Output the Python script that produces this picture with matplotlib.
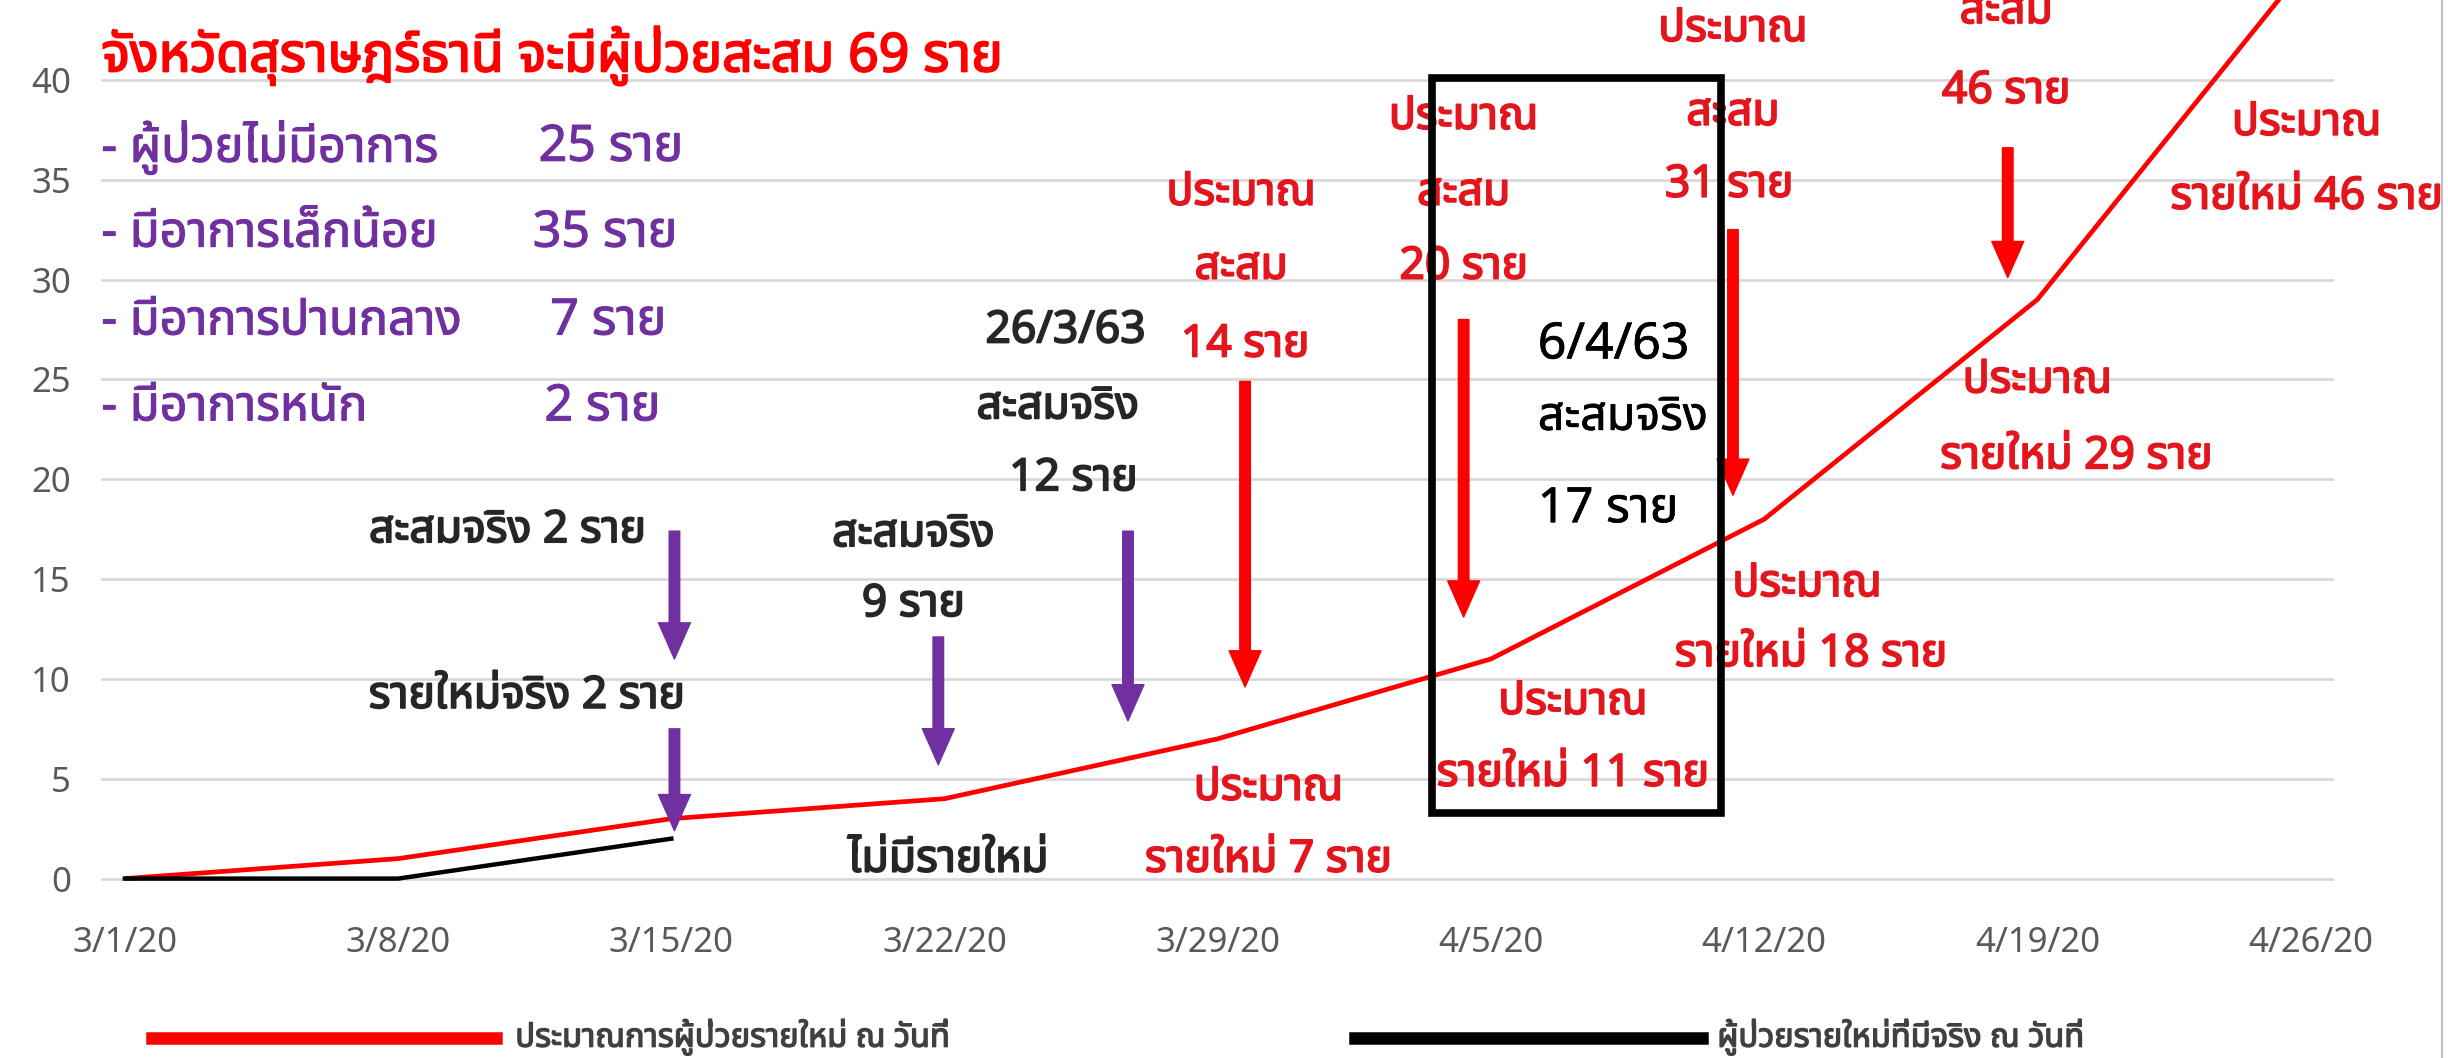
import matplotlib
matplotlib.use('Agg')
import matplotlib.pyplot as plt
from matplotlib import font_manager as fm
from matplotlib.ft2font import FT2Font
from matplotlib.lines import Line2D
from matplotlib.patches import Rectangle
import matplotlib.patheffects as pe

# ---------------- data ----------------
x_tick_labels = ['3/1/20', '3/8/20', '3/15/20', '3/22/20', '3/29/20',
                 '4/5/20', '4/12/20', '4/19/20', '4/26/20']
week_days = [0, 7, 14, 21, 28, 35, 42, 49, 56]          # days since 3/1/20
est_new = [0, 1, 3, 4, 7, 11, 18, 29, 46]               # estimated new cases
actual_days = [0, 7, 14]
actual_new = [0, 0, 2]                                    # actual new cases
y_ticks = [0, 5, 10, 15, 20, 25, 30, 35, 40]

legend_labels = ['ประมาณการผู้ป่วยรายใหม่ ณ วันที่', 'ผู้ป่วยรายใหม่ที่มีจริง ณ วันที่']
title_text = 'จังหวัดสุราษฎร์ธานี จะมีผู้ป่วยสะสม 69 ราย'
severity_labels = ['- ผู้ป่วยไม่มีอาการ', '- มีอาการเล็กน้อย', '- มีอาการปานกลาง', '- มีอาการหนัก']
severity_counts = ['25 ราย', '35 ราย', '7 ราย', '2 ราย']


# ---------------- fonts ----------------
def find_thai_family():
    found = {}
    for f in fm.fontManager.ttflist:
        try:
            cm = FT2Font(f.fname).get_charmap()
        except Exception:
            continue
        if 0x0E01 in cm and 0x0E21 in cm and 0x0E13 in cm:
            found.setdefault(f.name, []).append(f.weight)
    pref = ['Noto Sans Thai', 'Noto Sans Thai UI', 'Sarabun', 'Tahoma', 'Leelawadee UI',
            'Leelawadee', 'Garuda', 'Loma', 'Waree', 'Umpush', 'Kinnari', 'Norasi',
            'TlwgTypo', 'FreeSans', 'FreeSerif', 'Arial Unicode MS']
    for p in pref:
        if p in found:
            return p
    if found:
        return sorted(found)[0]
    return None

thai = find_thai_family()
fam = [thai, 'DejaVu Sans'] if thai else ['DejaVu Sans']
plt.rcParams['font.family'] = fam

RED_LINE = '#FF0000'
RED_TXT = '#E3161E'
PURPLE = '#7030A0'
DARK = '#262626'
GRID = '#D9D9D9'
TICK = '#595959'


def bold(color, w=1.3):
    return [pe.withStroke(linewidth=w, foreground=color)]


fig = plt.figure(figsize=(24.48, 10.58), dpi=100)
ax = fig.add_axes([0.04145, 0.1507, 0.912, 0.8493])
ax.set_xlim(-0.6, 56.6)
ax.set_ylim(-1, 44)

for v in y_ticks:
    ax.axhline(v, color=GRID, lw=2, zorder=0)

ax.plot(week_days, est_new, color=RED_LINE, lw=3.4, zorder=3, solid_capstyle='butt')
ax.plot(actual_days, actual_new, color='black', lw=3.2, zorder=3)

ax.set_xticks(week_days)
ax.set_xticklabels(x_tick_labels)
ax.set_yticks(y_ticks)
ax.tick_params(axis='both', length=0, labelsize=25, labelcolor=TICK)
ax.tick_params(axis='x', pad=20)
ax.tick_params(axis='y', pad=22)
for s in ax.spines.values():
    s.set_visible(False)

# title and severity list
ax.text(-0.6, 41.2, title_text, color=RED_LINE, fontsize=38.5, ha='left', va='center',
        path_effects=bold(RED_LINE, 1.4))
sev_y = [36.6, 32.3, 27.9, 23.6]
cnt_x = [10.6, 10.45, 10.9, 10.75]
for lab, cnt, yy, cx in zip(severity_labels, severity_counts, sev_y, cnt_x):
    ax.text(-0.6, yy, lab, color=PURPLE, fontsize=35, ha='left', va='center',
            path_effects=bold(PURPLE, 0.8))
    ax.text(cx, yy, cnt, color=PURPLE, fontsize=36, ha='left', va='center',
            path_effects=bold(PURPLE, 0.8))

ANN = 32


def t(x, y, s, color=RED_TXT, ha='center', size=ANN, stroke=1.3):
    kw = {}
    if stroke:
        kw['path_effects'] = bold(color, stroke)
    ax.text(x, y, s, color=color, fontsize=size, ha=ha, va='center', **kw)


def arrow(x, y0, y1, color):
    ax.annotate('', xy=(x, y1), xytext=(x, y0),
                arrowprops=dict(arrowstyle='simple,head_length=1.3,head_width=1.15,tail_width=0.38',
                                color=color, shrinkA=0, shrinkB=0, mutation_scale=20), zorder=4)


# red estimated cumulative labels
t(28.6, 34.3, 'ประมาณ'); t(28.6, 30.6, 'สะสม'); t(28.7, 26.7, '14 ราย')
arrow(28.7, 24.9, 9.6, RED_LINE)
t(34.3, 38.1, 'ประมาณ'); t(34.3, 34.3, 'สะสม'); t(34.3, 30.6, '20 ราย')
arrow(34.3, 28.0, 13.1, RED_LINE)
t(41.2, 42.5, 'ประมาณ'); t(41.2, 38.3, 'สะสม'); t(41.1, 34.7, '31 ราย')
arrow(41.2, 32.5, 19.2, RED_LINE)
t(48.2, 43.4, 'สะสม'); t(48.2, 39.4, '46 ราย')
arrow(48.24, 36.6, 30.1, RED_LINE)

# red estimated new labels
t(55.9, 37.8, 'ประมาณ'); t(55.9, 34.1, 'รายใหม่ 46 ราย')
t(49.0, 24.9, 'ประมาณ'); t(50.0, 21.1, 'รายใหม่ 29 ราย')
t(43.1, 14.7, 'ประมาณ'); t(43.2, 11.2, 'รายใหม่ 18 ราย')
t(37.1, 8.8, 'ประมาณ'); t(37.1, 5.2, 'รายใหม่ 11 ราย')
t(29.3, 4.5, 'ประมาณ'); t(29.3, 0.9, 'รายใหม่ 7 ราย')

# actual (black) labels with purple arrows
t(9.8, 17.4, 'สะสมจริง 2 ราย', color=DARK)
arrow(14.08, 17.4, 11.0, PURPLE)
t(10.3, 9.1, 'รายใหม่จริง 2 ราย', color=DARK)
arrow(14.08, 7.5, 2.4, PURPLE)
t(20.2, 17.2, 'สะสมจริง', color=DARK); t(20.2, 13.7, '9 ราย', color=DARK)
arrow(20.84, 12.1, 5.7, PURPLE)
t(24.1, 27.4, '26/3/63', color=DARK); t(23.9, 23.6, 'สะสมจริง', color=DARK)
t(24.3, 20.0, '12 ราย', color=DARK)
arrow(25.7, 17.4, 7.9, PURPLE)
t(21.1, 0.9, 'ไม่มีรายใหม่', color=DARK)

# highlighted box
ax.add_patch(Rectangle((33.5, 3.3), 7.4, 36.8, fill=False, ec='black', lw=5.5, zorder=5))
t(36.2, 26.7, '6/4/63', color='black', ha='left', size=36, stroke=0.5)
t(36.2, 23.1, 'สะสมจริง', color='black', ha='left', size=33.5, stroke=0.5)
t(36.2, 18.5, '17 ราย', color='black', ha='left', size=35, stroke=0.5)

# legend (drawn manually at bottom)
fig.add_artist(Line2D([0.0619, 0.2028], [0.0192, 0.0192], color=RED_LINE, lw=9,
                      transform=fig.transFigure))
fig.text(0.2105, 0.0192, legend_labels[0], color='#404040', fontsize=23.5,
         ha='left', va='center', path_effects=bold('#404040', 1.0))
fig.add_artist(Line2D([0.5536, 0.6952], [0.0192, 0.0192], color='black', lw=9,
                      transform=fig.transFigure))
fig.text(0.7015, 0.0192, legend_labels[1], color='#404040', fontsize=23.5,
         ha='left', va='center', path_effects=bold('#404040', 1.0))

fig.add_artist(Line2D([0.9975, 0.9975], [0, 1], color='#BFBFBF', lw=1.5,
                      transform=fig.transFigure))

fig.savefig('out.png', dpi=100, facecolor='white')
